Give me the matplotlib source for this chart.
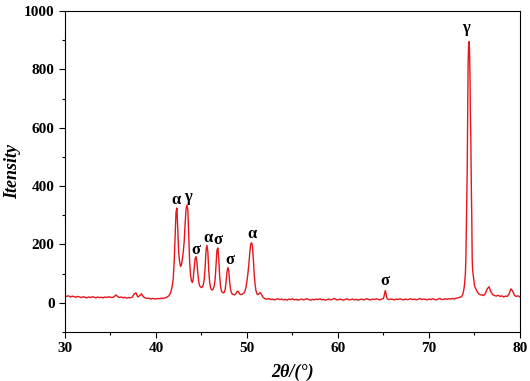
import numpy as np
import matplotlib
matplotlib.use("Agg")
import matplotlib.pyplot as plt
from matplotlib.ticker import MultipleLocator

# low angle background, 30 - 41.4 deg, step 0.2
bg1_start = 30.0
bg1_y = [25, 22, 24, 20, 23, 21, 19, 22, 20, 18,
         21, 19, 17, 20, 18, 21, 19, 17, 20, 18,
         19, 17, 20, 18, 21, 19, 18, 21, 27, 21,
         18, 20, 17, 19, 16, 18, 17, 20, 30, 34,
         20, 24, 31, 21, 17, 15, 16, 13, 15, 14,
         13, 15, 14, 16, 15, 17, 19, 24]

# main peak cluster, 41.5 - 51.9 deg, step 0.1
pk1_start = 41.5
pk1_y = [28, 35, 45, 60, 85, 140, 230, 310, 325, 250,
         170, 140, 125, 130, 150, 175, 210, 270, 320, 335,
         320, 230, 140, 95, 75, 70, 85, 120, 150, 158,
         140, 100, 72, 58, 55, 52, 55, 62, 80, 120,
         180, 197, 175, 110, 70, 52, 45, 44, 48, 58,
         80, 130, 180, 188, 150, 90, 55, 40, 36, 34,
         36, 45, 70, 105, 121, 110, 70, 45, 34, 30,
         28, 27, 29, 32, 38, 40, 36, 30, 28, 29,
         30, 32, 35, 42, 55, 75, 100, 130, 170, 200,
         206, 195, 150, 95, 60, 40, 30, 28, 30, 34,
         34, 28, 22, 18, 16]

# flat background, 52 - 73.6 deg, step 0.2
bg2_start = 52.0
bg2_y = [14, 12, 15, 11, 13, 10, 12, 14, 11, 13,
         10, 12, 9, 13, 11, 14, 10, 12, 9, 11,
         13, 10, 12, 14, 11, 9, 12, 10, 13, 11,
         14, 10, 12, 9, 11, 13, 10, 12, 15, 11,
         10, 13, 11, 9, 12, 14, 10, 11, 13, 10,
         12, 9, 11, 13, 10, 12, 14, 11, 10, 13,
         11, 14, 12, 10, 13, 15, 42, 14, 11, 13,
         12, 10, 13, 11, 14, 12, 10, 13, 11, 12,
         14, 11, 13, 10, 12, 15, 11, 13, 12, 10,
         13, 11, 14, 12, 10, 13, 15, 11, 12, 14,
         12, 14, 13, 15, 13, 16, 17, 19, 22]

# strong gamma peak near 74.4 deg
pk2_x = [73.7, 73.8, 73.9, 74.0, 74.05, 74.1, 74.15, 74.2, 74.25, 74.3,
         74.35, 74.4, 74.45, 74.5, 74.55, 74.6, 74.65, 74.7, 74.75, 74.8,
         74.9, 75.0, 75.1, 75.2, 75.3, 75.4, 75.5, 75.6]
pk2_y = [28, 40, 60, 100, 145, 250, 345, 450, 640, 820,
         880, 895, 870, 790, 645, 560, 405, 300, 148, 110,
         85, 60, 50, 45, 38, 34, 30, 28]

# high angle tail, 75.8 - 80 deg, step 0.2
bg3_start = 75.8
bg3_y = [27, 25, 32, 48, 55, 38, 28, 25, 23, 26,
         22, 24, 20, 23, 22, 30, 48, 40, 25, 22,
         24, 20]

# phase labels
lab_text = ["α", "γ", "σ", "α", "σ", "σ", "α", "σ", "γ"]
lab_x = [42.2, 43.5, 44.4, 45.7, 46.8, 48.1, 50.55, 65.2, 74.1]
lab_y = [353, 363, 182, 223, 216, 147, 236, 75, 942]


def seg(start, step, ys):
    return list(np.round(start + step * np.arange(len(ys)), 2))


x = seg(bg1_start, 0.2, bg1_y) + seg(pk1_start, 0.1, pk1_y) + \
    seg(bg2_start, 0.2, bg2_y) + pk2_x + seg(bg3_start, 0.2, bg3_y)
y = bg1_y + pk1_y + bg2_y + pk2_y + bg3_y

plt.rcParams['font.family'] = ['Liberation Serif', 'DejaVu Serif']

fig = plt.figure(figsize=(5.3, 3.81), dpi=100)
ax = fig.add_axes([0.1226, 0.1286, 0.8585, 0.8425])
ax.plot(x, y, color='#e8141a', lw=1.0)

for t, lx, ly in zip(lab_text, lab_x, lab_y):
    ax.text(lx, ly, t, ha='center', va='center', fontsize=12,
            fontweight='bold', color='black')

ax.set_xlim(30, 80)
ax.set_ylim(-100, 1000)
ax.set_xticks([30, 40, 50, 60, 70, 80])
ax.set_yticks([0, 200, 400, 600, 800, 1000])
ax.xaxis.set_minor_locator(MultipleLocator(5))
ax.yaxis.set_minor_locator(MultipleLocator(100))
ax.tick_params(which='both', direction='out', top=False, right=False,
               labelsize=11, width=0.8)
ax.tick_params(which='major', length=4)
ax.tick_params(which='minor', length=2.5)
for lbl in ax.get_xticklabels() + ax.get_yticklabels():
    lbl.set_fontweight('bold')
for sp in ax.spines.values():
    sp.set_linewidth(0.8)

ax.set_xlabel('2θ/(°)', fontsize=13, fontweight='bold', fontstyle='italic',
              labelpad=6)
ax.set_ylabel('Itensity', fontsize=13, fontweight='bold', fontstyle='italic',
              labelpad=2)

fig.savefig('out.png', dpi=100)
